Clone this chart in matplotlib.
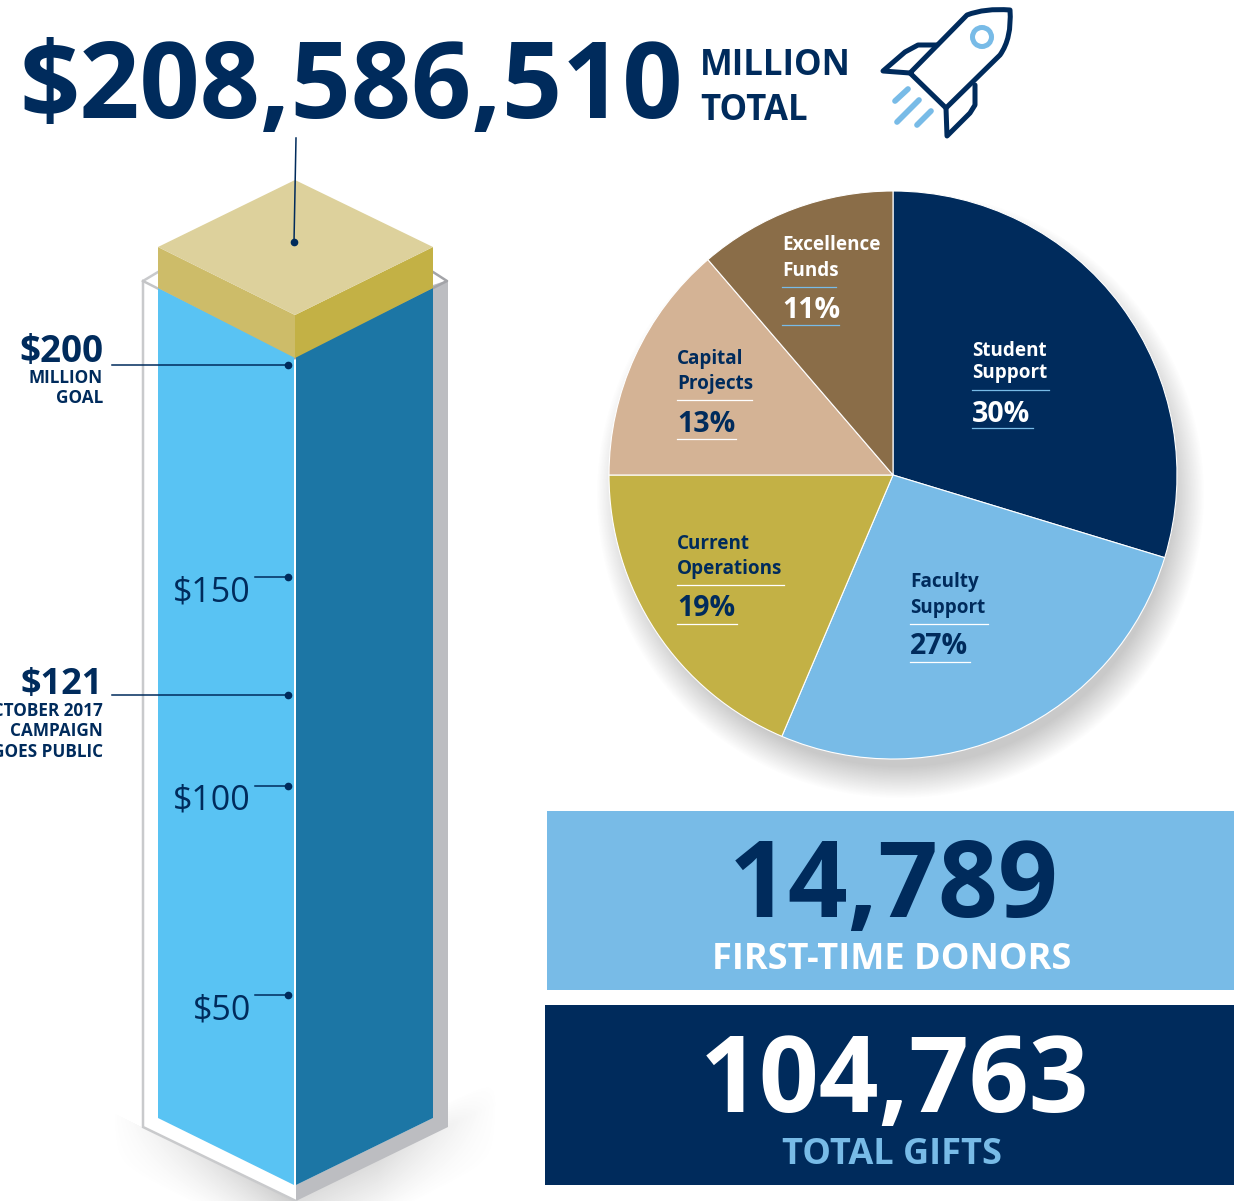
import numpy as np
import matplotlib
matplotlib.use("Agg")
import matplotlib.pyplot as plt
from matplotlib.patches import Polygon, Rectangle, Circle, PathPatch
from matplotlib.path import Path

plt.rcParams['font.family'] = ['Open Sans', 'DejaVu Sans']

W, H = 1234, 1201
NAVY = '#002b5c'
SKY = '#78bbe7'

# column data (millions of dollars)
total_label = '$208,586,510'
column_ticks = [50, 100, 150]
goal_value = 200
goal_words = ['MILLION', 'GOAL']
public_value = 121
public_words = ['OCTOBER 2017', 'CAMPAIGN', 'GOES PUBLIC']

# pie data, shares, labels as printed
pie_names = [['Student', 'Support'], ['Faculty', 'Support'], ['Current', 'Operations'],
             ['Capital', 'Projects'], ['Excellence', 'Funds']]
pie_shares = [29.7, 26.7, 18.6, 13.7, 11.3]
pie_labels = ['30%', '27%', '19%', '13%', '11%']
pie_colors = [NAVY, SKY, '#c3b145', '#d4b395', '#8a6d48']
pie_text_colors = ['white', NAVY, NAVY, NAVY, 'white']
pie_rule_colors = [SKY, 'white', 'white', 'white', SKY]

first_time_donors = '14,789'
total_gifts = '104,763'


def value_to_y(v):
    return 1204 - 4.18 * v


fig = plt.figure(figsize=(W / 100, H / 100), dpi=100)
ax = fig.add_axes([0, 0, 1, 1], zorder=1)
ax.set_xlim(0, W)
ax.set_ylim(H, 0)
ax.axis('off')

# soft shadow below the column
xx, yy = np.meshgrid(np.arange(100, 510), np.arange(1085, H))
d_left = yy - (1127 + (xx - 143) * 0.484)
a_left = 0.36 * np.clip(1 - d_left / 52, 0, 1) * np.clip((xx - 112) / 184, 0, 1) * (d_left > 0) * (xx <= 296)
d_right = yy - (1127 + (448 - xx) * 0.484)
a_right = 0.24 * np.clip(1 - d_right / 58, 0, 1) * np.clip((d_right + 26) / 24, 0, 1) * np.clip((497 - xx) / 120, 0, 1) * (xx > 296)
shadow = np.zeros(xx.shape + (4,))
shadow[..., :3] = 0.45
shadow[..., 3] = a_left + a_right
ax.imshow(shadow, extent=(100, 510, H, 1085), interpolation='bilinear', zorder=1, aspect='auto')
ax.set_xlim(0, W)
ax.set_ylim(H, 0)

# frame round the column
ax.add_patch(Polygon([(143, 281), (295, 358), (295, 1201), (143, 1127)], fc='white', ec='none', zorder=2))
ax.add_patch(Polygon([(433, 285), (448, 280), (448, 1127), (296, 1201), (296, 1185), (433, 1118)],
                     fc='#bcbdc1', ec='none', zorder=2))
ax.plot([158, 143, 143, 296], [272, 281, 1127, 1201], color='#c9cacc', lw=1.8, zorder=3, solid_joinstyle='miter')
ax.plot([143, 295], [281, 358], color='#c4c5c7', lw=1.8, zorder=3)
ax.plot([295, 447, 433], [358, 281, 272], color='#a3a4a8', lw=1.8, zorder=3)

# column faces
ax.add_patch(Polygon([(158, 288), (294, 356), (294, 1185), (158, 1118)], fc='#59c3f3', ec='none', zorder=4))
ax.add_patch(Polygon([(296, 356), (433, 288), (433, 1118), (296, 1185)], fc='#1c76a5', ec='none', zorder=4))

# gold cap
ax.add_patch(Polygon([(158, 247), (295, 315), (295, 358), (158, 288)], fc='#cdbc69', ec='none', zorder=5))
ax.add_patch(Polygon([(295, 315), (433, 247), (433, 288), (295, 358)], fc='#c3b145', ec='none', zorder=5))
ax.add_patch(Polygon([(295, 180), (433, 247), (295, 315), (158, 247)], fc='#ddd19c', ec='none', zorder=5))

# pie shadow
px, py = np.meshgrid(np.arange(590, 1215), np.arange(200, 815))
dist = np.hypot(px - 900, py - 494)
pie_shadow = np.zeros(px.shape + (4,))
pie_shadow[..., :3] = 0.45
pie_shadow[..., 3] = 0.38 * np.clip((304 - dist) / 32, 0, 1)
ax.imshow(pie_shadow, extent=(590, 1215, 815, 200), interpolation='bilinear', zorder=1, aspect='auto')
ax.set_xlim(0, W)
ax.set_ylim(H, 0)

# number boxes
ax.add_patch(Rectangle((547, 811), 687, 179, fc=SKY, ec='none', zorder=2))
ax.add_patch(Rectangle((545, 1005), 689, 180, fc=NAVY, ec='none', zorder=2))

# pie on its own axes, y axis there points up
R = 284
cx, cy = 893, 475
ax_pie = fig.add_axes([(cx - R) / W, 1 - (cy + R) / H, 2 * R / W, 2 * R / H], zorder=2)
ax_pie.pie(pie_shares, colors=pie_colors, startangle=90, counterclock=False, radius=1,
           wedgeprops={'linewidth': 0.8, 'edgecolor': 'white'})
ax_pie.set_xlim(-1, 1)
ax_pie.set_ylim(-1, 1)
ax_pie.patch.set_alpha(0)

# text and callouts on top
top = fig.add_axes([0, 0, 1, 1], zorder=3)
top.set_xlim(0, W)
top.set_ylim(H, 0)
top.axis('off')
top.patch.set_alpha(0)

top.text(351, 90, total_label, color=NAVY, fontsize=76, fontweight='bold', ha='center', va='center')
top.text(700, 66, 'MILLION', color=NAVY, fontsize=25, fontweight='bold', va='center')
top.text(700, 111, 'TOTAL', color=NAVY, fontsize=25, fontweight='bold', va='center')

# rocket icon
icon_lw = 3.6
body = Path([(910, 73), (946, 108), (1000, 55), (1012, 38), (1010, 10), (985, 8), (967, 15), (910, 73)],
            [Path.MOVETO, Path.LINETO, Path.LINETO, Path.CURVE3, Path.CURVE3, Path.CURVE3, Path.CURVE3, Path.LINETO])
top.add_patch(PathPatch(body, fc='none', ec=NAVY, lw=icon_lw, joinstyle='round'))
top.plot([910, 883, 905, 918, 937], [73, 71, 52, 45, 45], color=NAVY, lw=icon_lw, solid_capstyle='round', solid_joinstyle='round')
top.plot([946, 947, 970, 975, 975], [108, 136, 113, 105, 85], color=NAVY, lw=icon_lw, solid_capstyle='round', solid_joinstyle='round')
top.add_patch(Circle((982, 37), 9.5, fc='none', ec=SKY, lw=icon_lw))
for x0, y0, x1, y1 in [(895, 101, 908, 89), (897, 122, 919, 100), (917, 125, 931, 111)]:
    top.plot([x0, x1], [y0, y1], color=SKY, lw=icon_lw + 0.5, solid_capstyle='round')

# callouts
top.plot([296, 294], [138, 242], color=NAVY, lw=1.1)
top.plot([294], [242], 'o', color=NAVY, ms=4.5)

goal_y = value_to_y(goal_value) - 3
top.plot([112, 288], [goal_y, goal_y], color=NAVY, lw=1.1)
top.plot([288], [goal_y], 'o', color=NAVY, ms=4.5)
top.text(103, 352, f'${goal_value}', color=NAVY, fontsize=26.5, fontweight='bold', ha='right', va='center')
for i, word in enumerate(goal_words):
    top.text(103, 378 + i * 20, word, color=NAVY, fontsize=12.3, fontweight='bold', ha='right', va='center')

public_y = value_to_y(public_value) - 3
top.plot([112, 288], [public_y, public_y], color=NAVY, lw=1.1)
top.plot([288], [public_y], 'o', color=NAVY, ms=4.5)
top.text(103, 685, f'${public_value}', color=NAVY, fontsize=26, fontweight='bold', ha='right', va='center')
for i, word in enumerate(public_words):
    top.text(103, 711 + i * 20.5, word, color=NAVY, fontsize=12.3, fontweight='bold', ha='right', va='center')

for v in column_ticks:
    y = value_to_y(v)
    top.plot([255, 288], [y, y], color=NAVY, lw=1.1)
    top.plot([288], [y], 'o', color=NAVY, ms=4.5)
    top.text(251, y + 15, f'${v}', color=NAVY, fontsize=24.5, ha='right', va='center')

# pie labels: x, first line y, second line y, rule y, percent y, percent rule y, rule widths
label_x = [972, 910, 677, 677, 782]
line1_y = [351, 582, 544, 359, 245]
line2_y = [373, 608, 569, 384, 271]
pct_y = [414, 647, 609, 424, 311]
rule1_y = [390, 624, 585, 400, 287]
rule2_y = [428, 662, 624, 439, 325]
rule1_w = [77, 78, 107, 75, 54]
rule2_w = [61, 60, 60, 59, 57]
for i in range(len(pie_names)):
    c = pie_text_colors[i]
    x = label_x[i]
    top.text(x, line1_y[i], pie_names[i][0], color=c, fontsize=13.6, fontweight='bold', va='center')
    top.text(x, line2_y[i], pie_names[i][1], color=c, fontsize=13.6, fontweight='bold', va='center')
    top.text(x, pct_y[i], pie_labels[i], color=c, fontsize=20.5, fontweight='bold', va='center')
    top.plot([x, x + rule1_w[i]], [rule1_y[i], rule1_y[i]], color=pie_rule_colors[i], lw=0.9)
    top.plot([x, x + rule2_w[i]], [rule2_y[i], rule2_y[i]], color=pie_rule_colors[i], lw=0.9)

# boxes text
top.text(894, 889, first_time_donors, color=NAVY, fontsize=75.5, fontweight='bold', ha='center', va='center')
top.text(892, 960, 'FIRST-TIME DONORS', color='white', fontsize=26, fontweight='bold', ha='center', va='center')
top.text(894, 1084, total_gifts, color='white', fontsize=75.5, fontweight='bold', ha='center', va='center')
top.text(892, 1155, 'TOTAL GIFTS', color=SKY, fontsize=26, fontweight='bold', ha='center', va='center')

fig.savefig('out.png', dpi=100, facecolor='white')
